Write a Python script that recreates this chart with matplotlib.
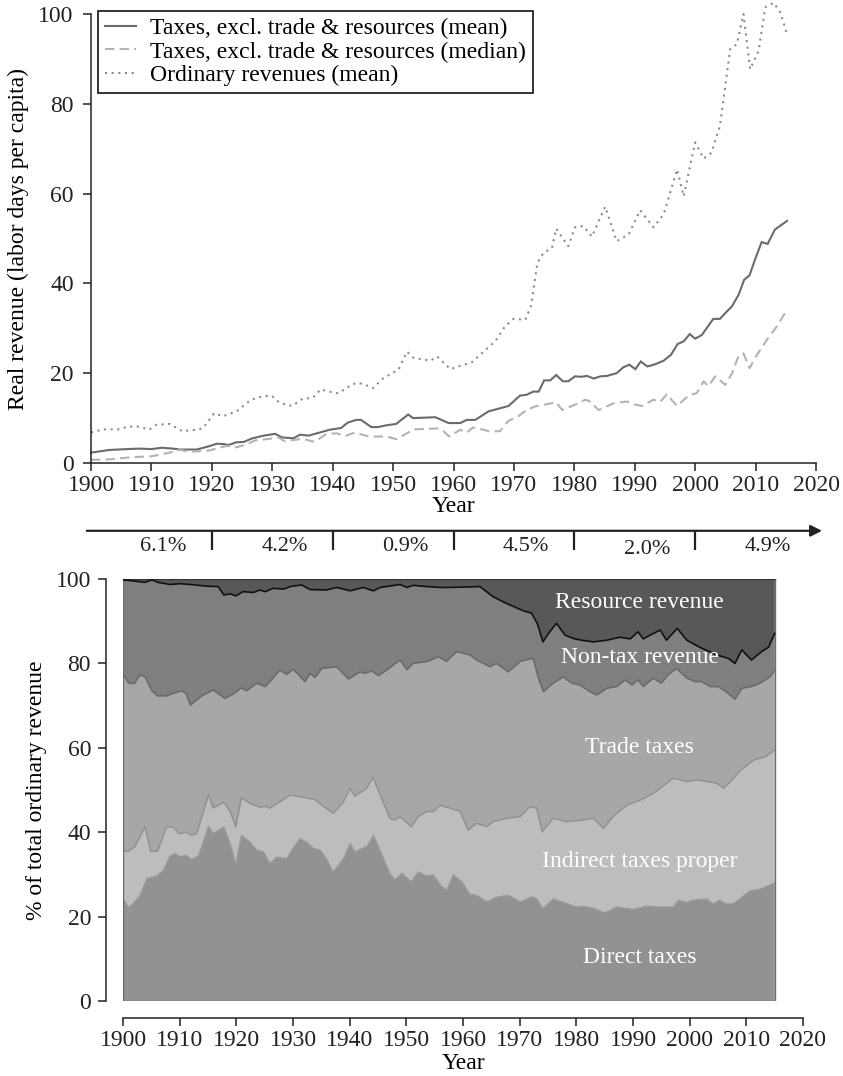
import numpy as np
import matplotlib
matplotlib.use("Agg")
import matplotlib.pyplot as plt

plt.rcParams['font.family'] = ['Liberation Serif', 'DejaVu Serif']
plt.rcParams['font.size'] = 17

# ---------------- data: top panel (labor days per capita) ----------------
tax_mean_years = [1900, 1903, 1906, 1908, 1910, 1911.7, 1913.6, 1914.7, 1917.5, 1918.9, 1919.7, 1920.8, 1922, 1922.8,
                  1924, 1925.3, 1926.7, 1928.6, 1930.5, 1931.6, 1933.5, 1934.6, 1936, 1937.9, 1939.5, 1941.4, 1942.5,
                  1943.9, 1944.7, 1946.4, 1947.5, 1948.9, 1950.5, 1952.5, 1953.3, 1957, 1959.2, 1961.1, 1962.2, 1963.6,
                  1965.8, 1967.2, 1969.1, 1971, 1972.1, 1973.2, 1974.1, 1975, 1976, 1977, 1978.1, 1979, 1980.1, 1981.2,
                  1982.1, 1983.2, 1984.3, 1985.4, 1987, 1988.1, 1989.1, 1990.1, 1991, 1992.1, 1993.4, 1994.8, 1996,
                  1997.1, 1998.1, 1999.1, 2000, 2001.1, 2002.2, 2003, 2004.1, 2005, 2006.1, 2007.2, 2008.1, 2009,
                  2009.9, 2011, 2012, 2013.2, 2015.2]
tax_mean = [2.3, 2.9, 3.1, 3.2, 3.1, 3.4, 3.2, 3.0, 3.0, 3.5, 3.8, 4.3, 4.2, 4.0,
            4.6, 4.7, 5.5, 6.1, 6.5, 5.7, 5.5, 6.3, 6.1, 6.8, 7.4, 7.8, 9.0,
            9.6, 9.6, 8.0, 8.0, 8.4, 8.7, 10.8, 10.0, 10.2, 8.9, 8.9, 9.6, 9.6,
            11.5, 12.0, 12.7, 15.0, 15.2, 15.9, 15.9, 18.4, 18.4, 19.6, 18.2, 18.2, 19.3, 19.2,
            19.4, 18.8, 19.3, 19.4, 20.0, 21.3, 21.9, 20.9, 22.6, 21.5, 22.0, 22.8, 24.1,
            26.5, 27.1, 28.7, 27.7, 28.5, 30.6, 32.1, 32.1, 33.4, 34.9, 37.5, 40.8, 41.8,
            45.3, 49.2, 48.8, 52.0, 53.9]

tax_median_years = [1900, 1903, 1906.8, 1910, 1911.5, 1913, 1914.7, 1916, 1917.9, 1919.6, 1921, 1922.4, 1924, 1925.7,
                    1927.1, 1929.6, 1931, 1932, 1933.4, 1935, 1937, 1939, 1940.7, 1942, 1943.7, 1945.4, 1946.8, 1949,
                    1950.5, 1951.3, 1953.5, 1955.6, 1957.5, 1958.4, 1959.3, 1961.1, 1962.2, 1963.2, 1964.7, 1966.1,
                    1967.7, 1969.1, 1970.5, 1972.1, 1973.5, 1975.4, 1977, 1978, 1979.8, 1981.8, 1982.6, 1984, 1986.5,
                    1988.7, 1990.1, 1991.2, 1993.1, 1994.2, 1995.3, 1997, 1998.9, 2000.3, 2001.4, 2002.2, 2003.3, 2005,
                    2006.1, 2007.2, 2008, 2009, 2009.9, 2011.9, 2013.5, 2015.2]
tax_median = [0.7, 0.8, 1.3, 1.5, 1.9, 2.3, 3.0, 2.5, 2.6, 2.8, 3.3, 3.8, 3.5, 4.1,
              5.0, 5.4, 5.7, 4.9, 5.1, 5.4, 4.7, 6.5, 6.6, 6.0, 6.8, 6.1, 5.9, 5.9,
              5.3, 5.9, 7.5, 7.6, 7.7, 7.0, 5.9, 7.4, 6.8, 7.9, 7.5, 7.0,
              7.1, 9.4, 10.2, 11.8, 12.6, 13.1, 13.5, 11.8, 12.8, 14.1, 13.7, 11.8, 13.3,
              13.7, 13.0, 12.7, 14.1, 13.6, 15.3, 12.7, 15.0, 15.6, 18.2, 17.1, 19.3, 17.4,
              20.0, 23.9, 24.4, 21.1, 23.4, 27.5, 30.4, 34.1]

ordinary_years = [1900, 1902, 1904.7, 1906, 1908, 1909.6, 1910.8, 1913, 1915.1, 1917.4, 1918.5, 1920.4, 1921.8, 1924.1,
                  1926.5, 1928.6, 1930, 1931.3, 1933.3, 1935, 1936.7, 1938, 1939.4, 1941, 1942.2, 1944, 1945, 1946.7,
                  1948.4, 1950.9, 1952.3, 1953.4, 1956.2, 1957.3, 1959.5, 1960.8, 1963, 1964.4, 1966.9, 1968.5,
                  1969.9, 1971.9, 1972.8, 1973.9, 1974.9, 1976.3, 1977, 1978.2, 1979, 1980.1, 1981.5, 1982.9, 1985.1,
                  1987, 1989, 1990.9, 1993.1, 1994.8, 1997, 1998.1, 2000, 2001.4, 2002.7, 2004.1, 2005.8, 2006.9,
                  2008, 2009.1, 2010.5, 2011.6, 2013, 2014.1, 2015.2]
ordinary_mean = [6.8, 7.5, 7.5, 8.1, 8.1, 7.4, 8.5, 8.7, 7.1, 7.4, 7.7, 11.1, 10.4, 11.5,
                 14.1, 14.9, 14.9, 13.3, 12.7, 14.3, 14.5, 16.4, 15.9, 15.5, 16.7, 17.9, 17.6, 16.7,
                 18.9, 20.8, 24.8, 23.4, 22.8, 23.7, 20.9, 21.5, 22.4, 24.1, 27.1, 30.4,
                 32.1, 31.9, 34.9, 44.6, 46.8, 47.9, 52.2, 49.8, 48.3, 52.5, 52.8, 50.4, 57.1,
                 49.4, 50.9, 56.3, 52.5, 55.4, 65.4, 59.4, 71.4, 67.8, 69.1, 75.1, 92.2, 93.3,
                 100.0, 87.7, 91.8, 101.5, 102.5, 100.4, 95.5]

period_breaks = [1900, 1920, 1940, 1960, 1980, 2000, 2020]
growth_labels = ['6.1%', '4.2%', '0.9%', '4.5%', '2.0%', '4.9%']

# ---------------- data: bottom panel (cumulative shares, % of ordinary revenue) ----------------
direct_years = [1900, 1901, 1901.8, 1903, 1904.2, 1905.9, 1907.1, 1908.3, 1909.2, 1910.1, 1911.1, 1912.1, 1913.3,
                1915.1, 1915.9, 1917.8, 1918.9, 1919.9, 1920.9, 1922.4, 1923.6, 1924.8, 1925.9, 1927.1, 1928.9,
                1930, 1931.2, 1932.4, 1933.6, 1934.8, 1935.9, 1937.1, 1938.9, 1940.1, 1940.9, 1943, 1944.2, 1945.6,
                1947.1, 1948, 1949.2, 1950.9, 1952.1, 1953.6, 1954.8, 1956, 1957.1, 1958.3, 1959.8, 1961.2, 1962.4,
                1964.2, 1965.9, 1968, 1970.1, 1972.1, 1973, 1974.1, 1975.9, 1978.3, 1980, 1981.2, 1983, 1985,
                1987.1, 1990, 1992.4, 1994.2, 1997.1, 1998, 1999.5, 2000.6, 2003, 2004.2, 2005.3, 2006.5, 2007.7,
                2008.9, 2010.6, 2012.4, 2015]
direct_top = [24.3, 22.2, 23.1, 25.1, 29.1, 29.6, 31.0, 34.4, 35.0, 34.2, 34.6, 33.6, 34.4,
              41.5, 39.7, 41.3, 37.4, 32.6, 39.3, 37.7, 35.8, 35.4, 32.6, 34.1, 33.8,
              36.2, 38.5, 37.7, 36.2, 35.8, 33.8, 30.6, 33.8, 37.4, 35.4, 36.6, 39.3, 35.0,
              30.3, 28.7, 30.3, 28.3, 30.6, 29.6, 29.9, 27.5, 26.3, 29.9, 28.3, 25.3, 25.1,
              23.5, 24.6, 25.1, 23.5, 24.7, 24.3, 22.0, 24.2, 23.1, 22.3, 22.5, 22.0, 20.9,
              22.3, 21.7, 22.5, 22.3, 22.3, 23.9, 23.4, 23.9, 24.2, 23.0, 23.9, 23.0, 23.1,
              24.3, 26.1, 26.5, 28.0]

indirect_years = [1900, 1901, 1902.1, 1903.9, 1904.9, 1906.1, 1907.7, 1908.9, 1909.9, 1911.1, 1912.1, 1913, 1915.1,
                  1915.9, 1917.8, 1918.9, 1919.9, 1920.9, 1922.4, 1924.2, 1925.1, 1925.9, 1927.7, 1929.5, 1931.8,
                  1933.9, 1935.6, 1937.1, 1938.9, 1940.1, 1940.9, 1942.1, 1943, 1944.1, 1947.1, 1948, 1948.9, 1950.9,
                  1952.1, 1953.6, 1954.8, 1955.9, 1957.7, 1959.5, 1960.9, 1962.4, 1964.2, 1965.3, 1967.7, 1970.1,
                  1971.8, 1973, 1974, 1975.9, 1978.3, 1981.2, 1983, 1984.8, 1986.5, 1988.9, 1991.3, 1993.6, 1997.1,
                  1999.5, 2001.3, 2003.1, 2004.8, 2006, 2007.2, 2009, 2011.3, 2013.4, 2015]
indirect_top = [35.6, 35.5, 36.6, 41.3, 35.4, 35.5, 41.3, 41.2, 39.6, 40.1, 39.3, 39.7, 48.8,
                45.7, 47.1, 44.9, 41.3, 48.2, 46.8, 45.9, 46.1, 45.7, 47.2, 48.8, 48.3,
                47.7, 45.9, 44.5, 47.2, 50.4, 48.5, 49.6, 50.4, 53.0, 43.3, 42.9, 43.7, 41.3,
                43.7, 44.9, 44.9, 46.4, 45.7, 44.9, 40.5, 42.1, 41.3, 42.5, 43.3, 43.7,
                46.0, 45.7, 40.1, 43.3, 42.5, 42.9, 43.3, 40.9, 43.7, 46.4, 47.6, 49.2, 52.8,
                52.0, 52.4, 52.0, 51.6, 50.4, 52.0, 54.7, 57.1, 57.9, 59.5]

trade_years = [1900, 1901, 1902, 1903, 1903.9, 1905.1, 1906.1, 1907.6, 1908.9, 1910.4, 1911.1, 1911.9, 1913.9, 1915.9,
               1918, 1919.4, 1920.9, 1921.8, 1923.6, 1925.1, 1926.2, 1927.7, 1928.9, 1930, 1931, 1932.1, 1933, 1933.9,
               1935.1, 1937.7, 1939.8, 1941.8, 1942.7, 1943.9, 1945.1, 1946.2, 1948.9, 1950.1, 1951.2, 1953.9, 1955.6,
               1957.1, 1958.9, 1961.2, 1962.4, 1964.8, 1965.9, 1968, 1970.1, 1972.4, 1973.3, 1974.2, 1975.9, 1977.7,
               1979.2, 1980.6, 1982.4, 1983.6, 1985.4, 1987.1, 1988.6, 1989.8, 1990.9, 1991.8, 1993.6, 1995, 1996.2,
               1997.7, 1999.5, 2000.9, 2002.1, 2003.6, 2005.1, 2006.8, 2008, 2009.2, 2010.9, 2012.4, 2014.2, 2015]
trade_top = [77.6, 75.3, 75.2, 77.3, 76.8, 73.5, 72.3, 72.3, 72.9, 73.5, 72.9, 70.1, 72.3, 73.7,
             71.7, 72.7, 74.2, 73.5, 75.3, 74.5, 76.1, 78.4, 77.4, 78.6, 77.3, 75.7, 77.6, 76.7,
             78.8, 79.2, 76.3, 78.0, 77.6, 78.2, 77.1, 78.1, 80.8, 78.5, 80.0, 80.5, 81.6,
             80.5, 82.8, 82.0, 80.8, 79.2, 80.0, 78.0, 80.5, 81.2, 76.5, 73.3, 75.3, 76.8,
             75.3, 74.9, 73.3, 72.5, 74.1, 74.5, 76.1, 74.9, 76.1, 74.5, 76.5, 75.3, 77.3,
             78.8, 76.5, 75.7, 75.7, 74.5, 74.5, 72.9, 71.5, 74.1, 74.5, 75.3, 76.8, 78.4]

nontax_years = [1900, 1902.1, 1903.9, 1905.1, 1906.2, 1908.3, 1910.1, 1911.8, 1914.8, 1916.8, 1917.8, 1918.9, 1919.9,
                1921.2, 1923, 1924.2, 1925.1, 1926.5, 1928.3, 1929.5, 1931.5, 1933, 1935.9, 1937.7, 1940.1, 1942.4,
                1944.2, 1945.4, 1948.9, 1950.1, 1951.2, 1953.6, 1956, 1957.7, 1963, 1965.3, 1967.7, 1970.6, 1972.1,
                1973.1, 1974.1, 1975.3, 1976.5, 1978, 1979.5, 1980.9, 1983, 1985.4, 1987.7, 1989.5, 1990.9, 1991.8,
                1993, 1994.8, 1995.9, 1997.8, 1999.5, 2001.8, 2004.8, 2006.8, 2008, 2009.2, 2010.9, 2012.7, 2013.9,
                2015]
nontax_top = [99.8, 99.5, 99.2, 99.8, 99.2, 98.7, 98.9, 98.7, 98.3, 98.2, 96.2, 96.5, 96.0,
              97.0, 96.8, 97.4, 97.0, 97.8, 97.6, 98.2, 98.6, 97.5, 97.4, 98.0, 97.2, 98.0,
              97.2, 98.0, 98.7, 98.0, 98.5, 98.2, 98.0, 98.0, 98.2, 95.8, 94.2, 92.5, 91.9,
              89.5, 85.1, 87.5, 89.5, 86.7, 85.9, 85.5, 85.1, 85.5, 86.2, 85.8, 87.5, 85.8,
              86.7, 87.9, 85.5, 88.3, 85.5, 83.8, 82.0, 81.2, 80.0, 83.2, 80.8, 82.8, 83.8,
              87.1]

layer_names = ['Direct taxes', 'Indirect taxes proper', 'Trade taxes', 'Non-tax revenue', 'Resource revenue']

# ---------------- figure ----------------
W, H = 843, 1076
fig = plt.figure(figsize=(W / 100, H / 100), dpi=100)

def px_axes(x0, x1, ytop, ybot):
    return fig.add_axes([x0 / W, 1 - ybot / H, (x1 - x0) / W, (ybot - ytop) / H])

ink = '#222222'

# ---- top panel ----
ax = px_axes(91, 816, 14, 463)
ax.plot(tax_mean_years, tax_mean, color='#6b6b6b', lw=1.5, solid_joinstyle='miter',
        label='Taxes, excl. trade & resources (mean)', clip_on=False)
ax.plot(tax_median_years, tax_median, color='#b3b3b3', lw=1.5, dashes=(4.5, 2.5),
        label='Taxes, excl. trade & resources (median)', clip_on=False)
ax.plot(ordinary_years, ordinary_mean, color='#8c8c8c', lw=1.5, dashes=(1.0, 2.2),
        label='Ordinary revenues (mean)', clip_on=False)
ax.set_xlim(1900, 2020)
ax.set_ylim(0, 100)
ax.set_xticks(np.arange(1900, 2021, 10))
ax.set_yticks(np.arange(0, 101, 20))
for s in ['top', 'right']:
    ax.spines[s].set_visible(False)
for s in ['left', 'bottom']:
    ax.spines[s].set_color(ink)
    ax.spines[s].set_linewidth(1.1)
ax.tick_params(axis='both', colors=ink, length=5.5, width=1.1, labelcolor=ink)
ax.tick_params(axis='y', pad=7)
ax.tick_params(axis='x', pad=3)
ax.set_ylabel('Real revenue (labor days per capita)', va='center')
ax.yaxis.set_label_coords(-0.100, 0.5)
ax.set_xlabel('Year', va='center')
ax.xaxis.set_label_coords(0.5, -0.097)

leg = ax.legend(loc='upper left', bbox_to_anchor=(0.0097, 1.0075), borderaxespad=0,
                frameon=True, fancybox=False, handlelength=1.3, handletextpad=0.6,
                labelspacing=0.08, borderpad=0.3, fontsize=17)
leg.get_frame().set_edgecolor('#111111')
leg.get_frame().set_linewidth(1.2)
leg.get_frame().set_alpha(1)

# growth arrow below top axis
arrow_y = -15.1
ax.annotate('', xy=(period_breaks[-1] + 1, arrow_y), xytext=(period_breaks[0] - 0.7, arrow_y),
            arrowprops=dict(arrowstyle='-|>', lw=1.6, color=ink, mutation_scale=17, shrinkA=0, shrinkB=0),
            annotation_clip=False)
for b in period_breaks[1:-1]:
    ax.plot([b, b], [arrow_y, arrow_y - 4.3], color=ink, lw=1.6, clip_on=False, solid_capstyle='butt')
for i, lab in enumerate(growth_labels):
    xm = (period_breaks[i] + period_breaks[i + 1]) / 2 + 2
    yy = arrow_y - 3.6 - (0.6 if lab == '2.0%' else 0)
    ax.text(xm, yy, lab, ha='center', va='center', fontsize=16, color=ink, clip_on=False)

# ---- bottom panel ----
bx = px_axes(123, 803, 579, 1001)
boundaries = [
    ([direct_years[0], direct_years[-1]], [0, 0]),
    (direct_years, direct_top),
    (indirect_years, indirect_top),
    (trade_years, trade_top),
    (nontax_years, nontax_top),
    ([nontax_years[0], nontax_years[-1]], [100, 100]),
]
fills = ['#929294', '#bdbdbf', '#a7a7aa', '#7f7f82', '#58585a']
for k in range(5):
    xl, yl = boundaries[k]
    xu, yu = boundaries[k + 1]
    px = list(xu) + list(xl)[::-1]
    py = list(yu) + list(yl)[::-1]
    bx.fill(px, py, facecolor=fills[k], edgecolor=fills[k], lw=0.3)

bx.plot(direct_years, direct_top, color='#9a9a9c', lw=0.8)
bx.plot(indirect_years, indirect_top, color='#909093', lw=1.0)
bx.plot(trade_years, trade_top, color='#69696c', lw=1.1)
x0, x1 = direct_years[0], direct_years[-1]
bx.plot([x0, x0, x1, x1, x0], [0, 100, 100, 0, 0], color='#6c6c6e', lw=1.0)
bx.plot([x0, x1], [100, 100], color='#333333', lw=1.0)
bx.plot(nontax_years, nontax_top, color='#111111', lw=1.2)

label_pos = [(1991.2, 10.2), (1991.2, 33.0), (1991.2, 60.0), (1991.2, 81.5), (1991.2, 94.5)]
for name, (lx, ly) in zip(layer_names, label_pos):
    bx.text(lx, ly, name, ha='center', va='center', color='white', fontsize=17)

bx.set_xlim(1900, 2020)
bx.set_ylim(0, 100)
bx.set_xticks(np.arange(1900, 2021, 10))
bx.set_yticks(np.arange(0, 101, 20))
for s in ['top', 'right']:
    bx.spines[s].set_visible(False)
for s in ['left', 'bottom']:
    bx.spines[s].set_color(ink)
    bx.spines[s].set_linewidth(1.1)
    bx.spines[s].set_position(('outward', 12))
bx.tick_params(axis='both', colors=ink, length=6, width=1.1, labelcolor=ink)
bx.tick_params(axis='y', pad=5)
bx.tick_params(axis='x', pad=3)
bx.set_ylabel('% of total ordinary revenue', va='center')
bx.yaxis.set_label_coords(-0.1265, 0.5)
bx.set_xlabel('Year', va='center')
bx.xaxis.set_label_coords(0.5, -0.147)

fig.savefig('out.png', dpi=100)
